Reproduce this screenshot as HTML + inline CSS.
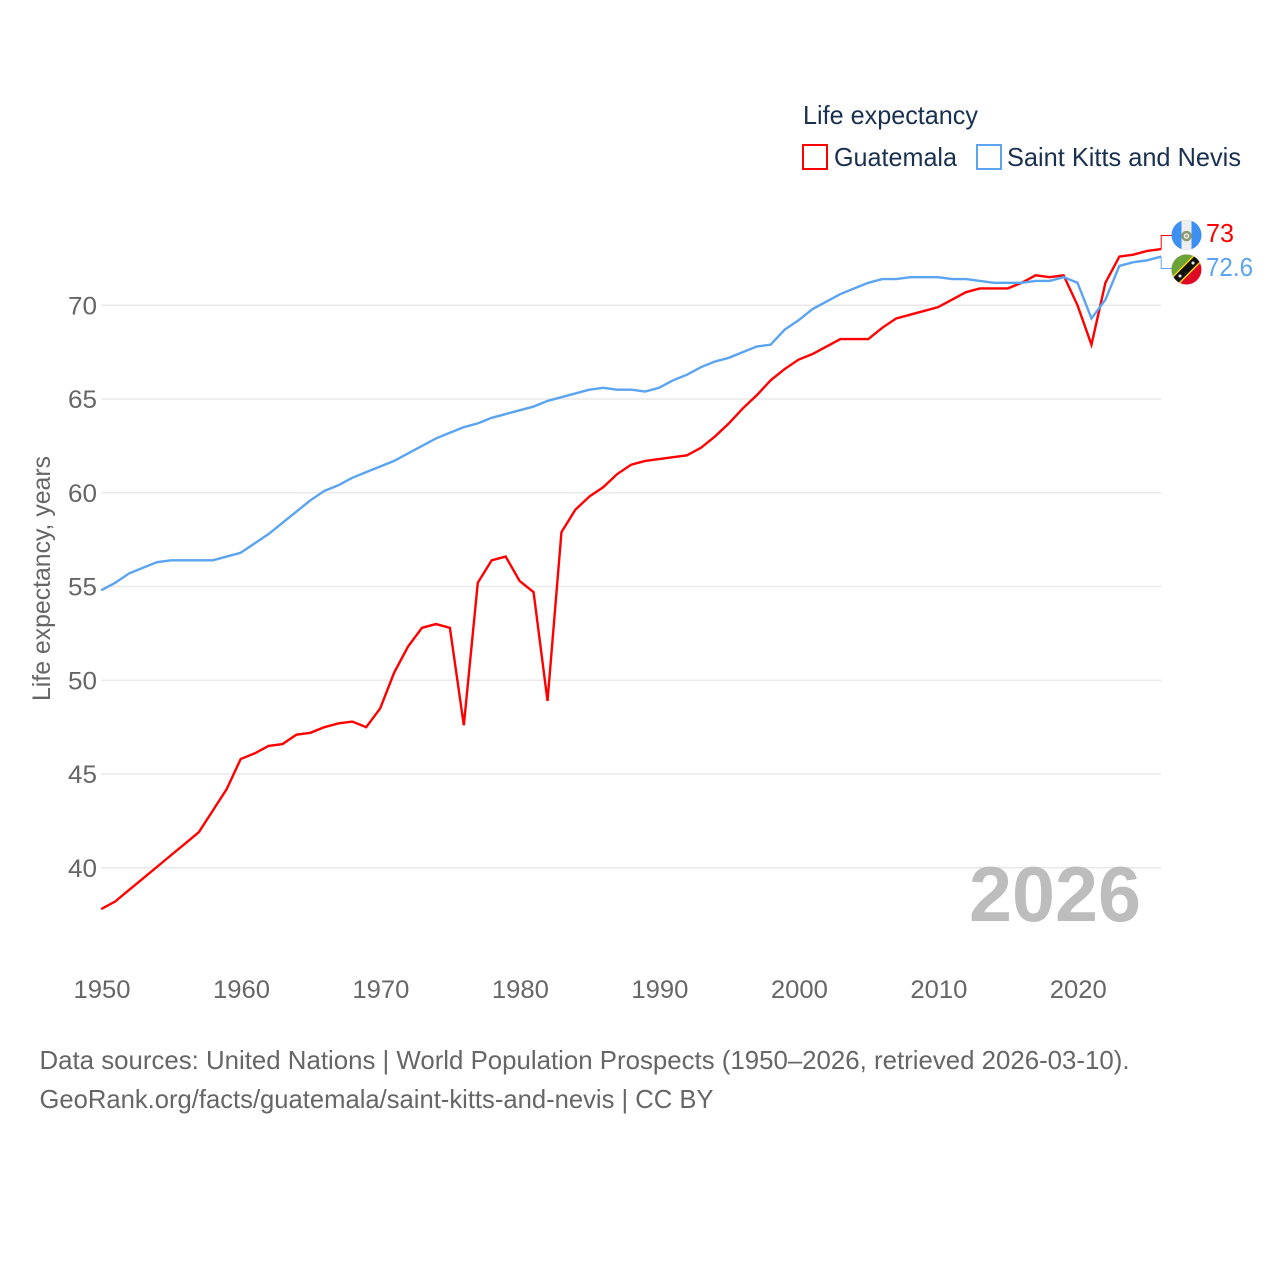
<!DOCTYPE html>
<html lang="en">
<head>
<meta charset="utf-8">
<title>Life expectancy: Guatemala vs Saint Kitts and Nevis</title>
<style>
  html, body { margin: 0; padding: 0; background: #fff; }
  svg { display: block; }
  text { font-family: "Liberation Sans", sans-serif; }
</style>
</head>
<body>
<svg id="chart" xmlns="http://www.w3.org/2000/svg" width="1280" height="1280" viewBox="0 0 1280 1280">
  <rect width="1280" height="1280" fill="#fff"/>
  <defs>
    <clipPath id="gt-clip"><circle cx="1186.5" cy="235" r="15"/></clipPath>
    <clipPath id="kn-clip"><circle cx="1186.5" cy="269.5" r="15"/></clipPath>
  </defs>

  <g id="grid"></g>
  <g id="yticks"></g>
  <g id="xticks"></g>

  <text transform="translate(50,701) rotate(-90)" font-size="25" fill="#666" textLength="245" lengthAdjust="spacingAndGlyphs">Life expectancy, years</text>

  <text x="803" y="124" font-size="26" fill="#1a3050" textLength="175" lengthAdjust="spacingAndGlyphs">Life expectancy</text>
  <g>
    <rect x="803" y="145" width="24" height="24" fill="#fff" stroke="#ff0000" stroke-width="2"/>
    <text x="834" y="166" font-size="26" fill="#1a3050" textLength="123" lengthAdjust="spacingAndGlyphs">Guatemala</text>
  </g>
  <g>
    <rect x="977" y="145" width="24" height="24" fill="#fff" stroke="#5ba4ef" stroke-width="2"/>
    <text x="1007" y="166" font-size="26" fill="#1a3050" textLength="234" lengthAdjust="spacingAndGlyphs">Saint Kitts and Nevis</text>
  </g>

  <text x="969" y="921" font-size="78" font-weight="bold" fill="#bdbdbd" textLength="172" lengthAdjust="spacingAndGlyphs">2026</text>

  <g id="series"></g>

  <g clip-path="url(#gt-clip)">
    <rect x="1171" y="220" width="31" height="30" fill="#3d8ff2"/>
    <rect x="1181.5" y="220" width="10" height="30" fill="#eeeeee"/>
    <circle cx="1186.5" cy="236" r="4" fill="none" stroke="#8a9a6a" stroke-width="2.5"/>
    <circle cx="1186.5" cy="236" r="1.5" fill="#a8a890"/>
  </g>
  <g clip-path="url(#kn-clip)">
    <rect x="1171" y="254" width="31" height="31" fill="#dd0a26"/>
    <polygon points="1171,254 1202,254 1171,285" fill="#6aa338"/>
    <line x1="1172" y1="284" x2="1201" y2="255" stroke="#f5d21f" stroke-width="10.5"/>
    <line x1="1172" y1="284" x2="1201" y2="255" stroke="#111" stroke-width="7.5"/>
    <circle cx="1180" cy="276" r="1.5" fill="#eee"/>
    <circle cx="1193" cy="263" r="1.5" fill="#eee"/>
  </g>

  <text id="value-gt" x="1206" y="242" font-size="26" fill="#ff0000" textLength="28" lengthAdjust="spacingAndGlyphs"></text>
  <text id="value-kn" x="1206" y="276" font-size="26" fill="#5ba4ef" textLength="47" lengthAdjust="spacingAndGlyphs"></text>

  <text x="39.5" y="1069" font-size="26" fill="#666" textLength="1090" lengthAdjust="spacingAndGlyphs">Data sources: United Nations | World Population Prospects (1950–2026, retrieved 2026-03-10).</text>
  <a>
    <text x="39.5" y="1108" font-size="26" fill="#666" textLength="674" lengthAdjust="spacingAndGlyphs">GeoRank.org/facts/guatemala/saint-kitts-and-nevis | CC BY</text>
  </a>
</svg>

<script>
const startYear = 1950;
const yTickValues = [40, 45, 50, 55, 60, 65, 70];
const xTickValues = [1950, 1960, 1970, 1980, 1990, 2000, 2010, 2020];
const guatemala = [
  37.8, 38.2, 38.82, 39.43, 40.05, 40.67, 41.28, 41.9, 43.05, 44.2,
  45.8, 46.1, 46.5, 46.6, 47.1, 47.2, 47.5, 47.7, 47.8, 47.5,
  48.5, 50.4, 51.8, 52.8, 53.0, 52.8, 47.6, 55.2, 56.4, 56.6,
  55.3, 54.7, 48.9, 57.9, 59.1, 59.8, 60.3, 61.0, 61.5, 61.7,
  61.8, 61.9, 62.0, 62.4, 63.0, 63.7, 64.5, 65.2, 66.0, 66.6,
  67.1, 67.4, 67.8, 68.2, 68.2, 68.2, 68.8, 69.3, 69.5, 69.7,
  69.9, 70.3, 70.7, 70.9, 70.9, 70.9, 71.2, 71.6, 71.5, 71.6,
  70.0, 67.9, 71.2, 72.6, 72.7, 72.9, 73.0
];
const saintKitts = [
  54.8, 55.2, 55.7, 56.0, 56.3, 56.4, 56.4, 56.4, 56.4, 56.6,
  56.8, 57.3, 57.8, 58.4, 59.0, 59.6, 60.1, 60.4, 60.8, 61.1,
  61.4, 61.7, 62.1, 62.5, 62.9, 63.2, 63.5, 63.7, 64.0, 64.2,
  64.4, 64.6, 64.9, 65.1, 65.3, 65.5, 65.6, 65.5, 65.5, 65.4,
  65.6, 66.0, 66.3, 66.7, 67.0, 67.2, 67.5, 67.8, 67.9, 68.7,
  69.2, 69.8, 70.2, 70.6, 70.9, 71.2, 71.4, 71.4, 71.5, 71.5,
  71.5, 71.4, 71.4, 71.3, 71.2, 71.2, 71.2, 71.3, 71.3, 71.5,
  71.2, 69.3, 70.3, 72.1, 72.3, 72.4, 72.6
];

const NS = 'http://www.w3.org/2000/svg';
const plotLeft = 101.2, plotRight = 1161.2;
const lastYear = 2026;
function xScale(year) {
  return plotLeft + (year - startYear) * (plotRight - plotLeft) / (lastYear - startYear);
}
function yScale(value) {
  return 867.8 - (value - 40) * (867.8 - 305.3) / 30;
}
function make(tag, attrs) {
  const el = document.createElementNS(NS, tag);
  Object.keys(attrs).forEach(function (k) { el.setAttribute(k, attrs[k]); });
  return el;
}

const gridGroup = document.getElementById('grid');
const yGroup = document.getElementById('yticks');
const xGroup = document.getElementById('xticks');
const seriesGroup = document.getElementById('series');

yTickValues.forEach(function (v) {
  const line = make('line', { x1: plotLeft, x2: plotRight, y1: yScale(v), y2: yScale(v), stroke: '#e9e9e9', 'stroke-width': 1.5 });
  
  
  gridGroup.appendChild(line);

  const label = make('text', { x: 97, y: yScale(v) + 9, 'font-size': 25, fill: '#666', 'text-anchor': 'end', textLength: 29, lengthAdjust: 'spacingAndGlyphs' });
  
  
  label.textContent = v;
  yGroup.appendChild(label);
});

xTickValues.forEach(function (yr) {
  const label = make('text', { x: xScale(yr) - 27.7, y: 998, 'font-size': 25, fill: '#666', textLength: 57, lengthAdjust: 'spacingAndGlyphs' });
  
  
  label.textContent = yr;
  xGroup.appendChild(label);
});

function seriesPath(values) {
  return values.map(function (v, i) {
    return (i ? 'L' : 'M') + xScale(startYear + i).toFixed(2) + ' ' + yScale(v).toFixed(2);
  }).join(' ');
}

const lineGt = make('path', { d: seriesPath(guatemala), fill: 'none', stroke: '#ff0000', 'stroke-width': 2.4, 'stroke-linejoin': 'miter' });


seriesGroup.appendChild(lineGt);

const lineKn = make('path', { d: seriesPath(saintKitts), fill: 'none', stroke: '#5ba4ef', 'stroke-width': 2.4, 'stroke-linejoin': 'miter' });


seriesGroup.appendChild(lineKn);

const lastGt = guatemala[guatemala.length - 1];
const lastKn = saintKitts[saintKitts.length - 1];

const connGt = make('path', { d: 'M' + plotRight + ' ' + yScale(lastGt).toFixed(1) + ' V235.5 H1172', fill: 'none', stroke: '#ff0000', 'stroke-width': 1 });


seriesGroup.appendChild(connGt);

const connKn = make('path', { d: 'M' + plotRight + ' ' + yScale(lastKn).toFixed(1) + ' V268.5 H1172', fill: 'none', stroke: '#5ba4ef', 'stroke-width': 1 });


seriesGroup.appendChild(connKn);

document.getElementById('value-gt').textContent = lastGt;
document.getElementById('value-kn').textContent = lastKn;
</script>
</body>
</html>
